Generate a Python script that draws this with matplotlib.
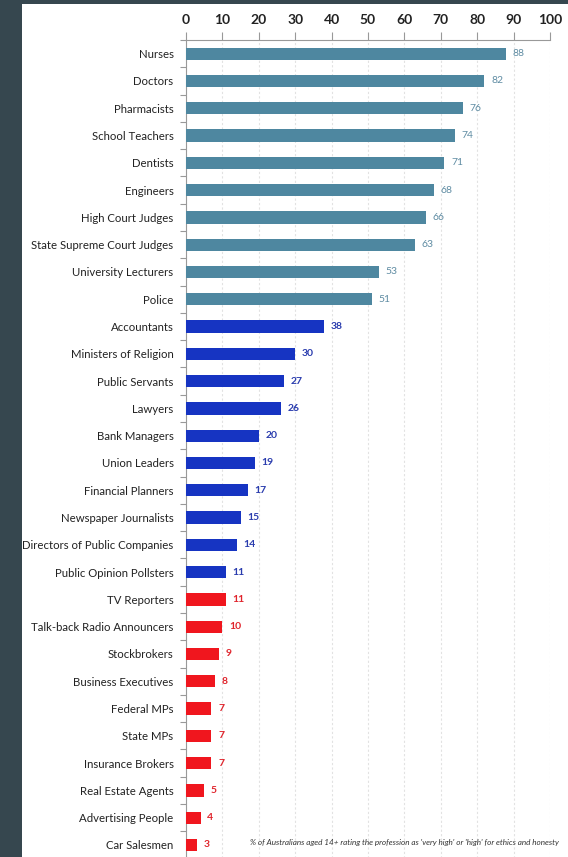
import matplotlib
matplotlib.use("Agg")
import matplotlib.pyplot as plt

professions = ["Nurses", "Doctors", "Pharmacists", "School Teachers", "Dentists", "Engineers",
               "High Court Judges", "State Supreme Court Judges", "University Lecturers", "Police",
               "Accountants", "Ministers of Religion", "Public Servants", "Lawyers", "Bank Managers",
               "Union Leaders", "Financial Planners", "Newspaper Journalists",
               "Directors of Public Companies", "Public Opinion Pollsters",
               "TV Reporters", "Talk-back Radio Announcers", "Stockbrokers", "Business Executives",
               "Federal MPs", "State MPs", "Insurance Brokers", "Real Estate Agents",
               "Advertising People", "Car Salesmen"]
values = [88, 82, 76, 74, 71, 68, 66, 63, 53, 51,
          38, 30, 27, 26, 20, 19, 17, 15, 14, 11,
          11, 10, 9, 8, 7, 7, 7, 5, 4, 3]
groups = ["high"] * 10 + ["mid"] * 10 + ["low"] * 10
x_ticks = [0, 10, 20, 30, 40, 50, 60, 70, 80, 90, 100]
note = "% of Australians aged 14+ rating the profession as 'very high' or 'high' for ethics and honesty"

bar_colors = {"high": "#4e87a0", "mid": "#1634c2", "low": "#f0161e"}
lab_colors = {"high": "#5f8ca3", "mid": "#2a3cae", "low": "#e0242c"}
lab_weight = {"high": "normal", "mid": "bold", "low": "bold"}

plt.rcParams["font.family"] = ["Lato", "DejaVu Sans"]

W, H = 568, 857
fig = plt.figure(figsize=(W / 100, H / 100), dpi=100)
fig.patch.set_facecolor("#36474f")
# white panel
fig.add_artist(plt.Rectangle((22 / W, 0), 1 - 22 / W, 1 - 4 / H, transform=fig.transFigure,
                             facecolor="white", edgecolor="none", zorder=0))

ax = fig.add_axes([186 / W, -1.6 / H, 364 / W, (858.6 - 40) / H])
ax.set_facecolor("none")
y = list(range(len(professions)))
ax.barh(y, values, height=0.45, color=[bar_colors[g] for g in groups], zorder=3)
for yi, v, g in zip(y, values, groups):
    ax.text(v + 1.8, yi, str(v), va="center", ha="left", fontsize=7.5,
            color=lab_colors[g], fontweight=lab_weight[g], zorder=4)

ax.set_xlim(0, 100)
ax.set_ylim(len(professions) - 0.5, -0.5)
ax.xaxis.tick_top()
ax.set_xticks(x_ticks)
ax.set_xticklabels([str(t) for t in x_ticks], fontsize=10, fontweight="bold", color="#222222")
ax.tick_params(axis="x", direction="out", length=6, width=0.8, color="#999999", pad=4)
ax.set_yticks(y)
ax.set_yticklabels(professions, fontsize=8.2, color="#222222")
ax.tick_params(axis="y", length=0, pad=9)
ax.set_yticks([i + 0.5 for i in range(-1, len(professions))], minor=True)
ax.tick_params(axis="y", which="minor", length=4, width=0.8, color="#999999", direction="out")
ax.grid(axis="x", color="#e2e2e2", linestyle=(0, (2, 2)), linewidth=0.8, zorder=0)
for s in ["right", "bottom"]:
    ax.spines[s].set_visible(False)
ax.spines["top"].set_color("#999999")
ax.spines["left"].set_color("#999999")
ax.spines["top"].set_linewidth(0.8)
ax.spines["left"].set_linewidth(0.8)

fig.text(250 / W, 1 - 843 / H, note, fontsize=5.85, style="italic", color="#333333",
         va="center", ha="left")

fig.savefig("out.png", dpi=100, facecolor=fig.get_facecolor())
